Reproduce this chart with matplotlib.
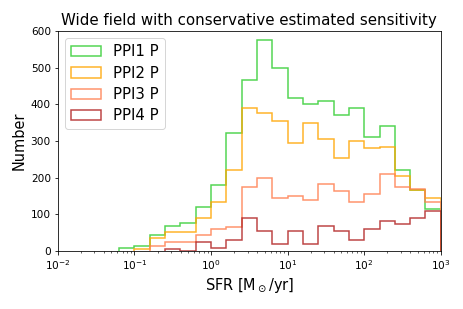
import numpy as np
import matplotlib
matplotlib.use("Agg")
import matplotlib.pyplot as plt

# log10 bin edges: 5 bins per decade from 1e-2 to 1e3
log_edges = [-2.0, -1.8, -1.6, -1.4, -1.2, -1.0, -0.8, -0.6, -0.4, -0.2, 0.0,
             0.2, 0.4, 0.6, 0.8, 1.0, 1.2, 1.4, 1.6, 1.8, 2.0, 2.2, 2.4, 2.6, 2.8, 3.0]

ppi1 = [0, 0, 0, 0, 10, 15, 45, 70, 76, 120, 181, 321, 466, 576, 500, 416, 401,
        410, 371, 390, 311, 341, 220, 166, 116]
ppi2 = [0, 0, 0, 0, 0, 5, 35, 51, 51, 90, 135, 220, 390, 376, 355, 296, 350,
        305, 255, 300, 281, 285, 205, 168, 144]
ppi3 = [0, 0, 0, 0, 0, 0, 14, 26, 26, 44, 60, 65, 175, 200, 144, 150, 140,
        184, 164, 134, 156, 210, 175, 170, 135]
ppi4 = [0, 0, 0, 0, 0, 0, 0, 5, 0, 25, 10, 31, 90, 56, 21, 56, 21,
        70, 56, 31, 60, 81, 75, 90, 110]

labels = ["PPI1 P", "PPI2 P", "PPI3 P", "PPI4 P"]
colors = ["limegreen", "orange", "coral", "firebrick"]

edges = 10 ** np.array(log_edges)
centers = np.sqrt(edges[:-1] * edges[1:])

fig = plt.figure(figsize=(463 / 72, 309 / 72), dpi=72)
ax = fig.add_axes([0.125, 0.187, 0.827, 0.713])

for vals, lab, col in zip([ppi1, ppi2, ppi3, ppi4], labels, colors):
    v = np.array(vals, dtype=float)
    start = int(np.argmax(v > 0))  # histogram range begins at first populated bin
    ax.hist(centers[start:], bins=edges[start:], weights=v[start:], histtype="step",
            color=col, alpha=0.85, linewidth=1.5, label=lab)

ax.set_xscale("log")
ax.set_xlim(1e-2, 1e3)
ax.set_ylim(0, 600)
ax.set_yticks([0, 100, 200, 300, 400, 500, 600])
ax.tick_params(labelsize=10.5)
ax.set_xlabel(r"SFR [M$_\odot$/yr]", fontsize=14.5)
ax.set_ylabel("Number", fontsize=14.5)
ax.set_title("Wide field with conservative estimated sensitivity", fontsize=15)
ax.legend(loc="upper left", fontsize=15, labelspacing=0.42)

fig.savefig("out.png", dpi=72)
